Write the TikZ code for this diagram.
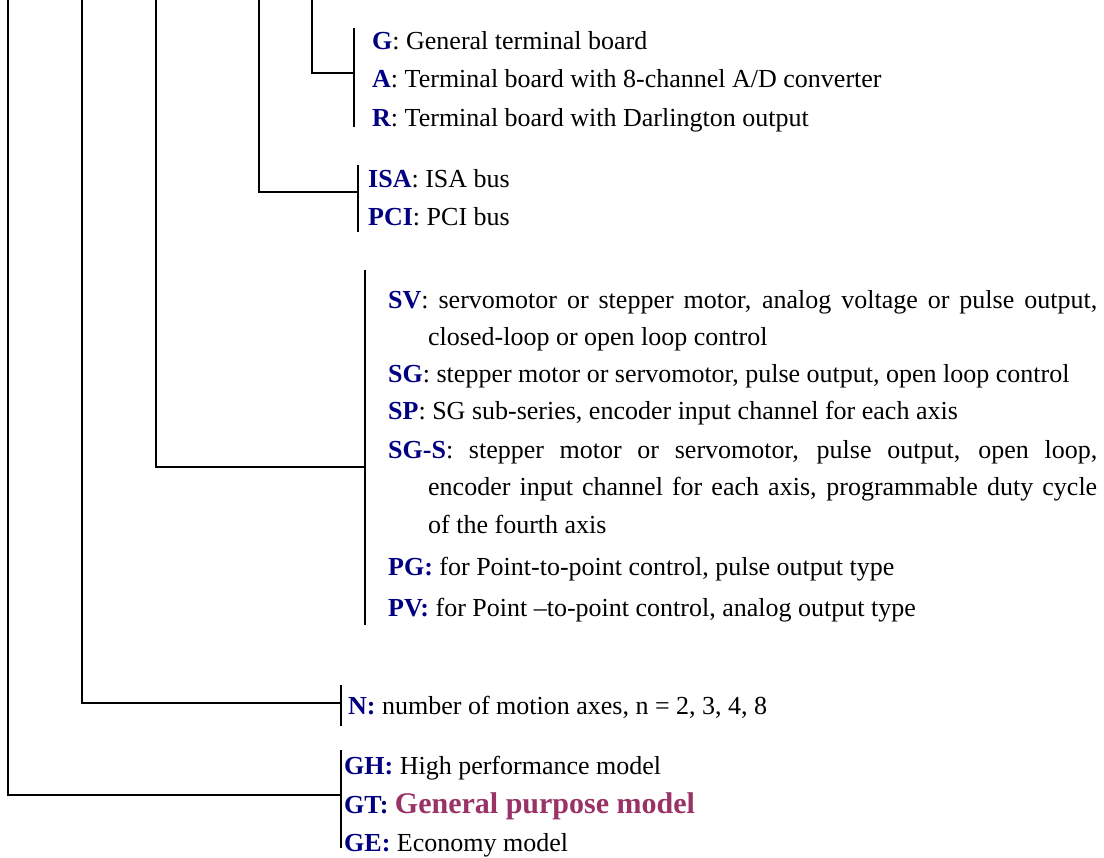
\documentclass[tikz,border=0pt]{standalone}
\usepackage{fontspec}
\setmainfont{Liberation Serif}
\definecolor{labblue}{RGB}{0,0,128}
\definecolor{gpmag}{RGB}{153,51,102}
\newcommand{\lab}[1]{\textbf{\color{labblue}#1}}
\begin{document}
\begin{tikzpicture}[x=1pt,y=-1pt,
  conn/.style={line width=1.8pt, black},
  bar/.style={line width=1.8pt, black},
  txt/.style={anchor=base west, inner sep=0pt, font=\fontsize{26}{30}\selectfont}]
\useasboundingbox (0,0) rectangle (1104,858);

% ---- group 1: terminal boards
\coordinate (t1) at (312,0);
\coordinate (j1) at (354,73);
\coordinate (b1a) at (354,28);
\coordinate (b1b) at (354,127);
\draw[bar] (b1a) -- (b1b);
\draw[conn] (t1) |- (j1);
\node[txt] (G) at (372,50) {\lab{G}: General terminal board};
\node[txt] (A) at (372,88) {\lab{A}: Terminal board with 8-channel A/D converter};
\node[txt] (R) at (372,127) {\lab{R}: Terminal board with Darlington output};

% ---- group 2: bus
\coordinate (t2) at (259,0);
\coordinate (j2) at (358,192);
\coordinate (b2a) at (358,165);
\coordinate (b2b) at (358,232);
\draw[bar] (b2a) -- (b2b);
\draw[conn] (t2) |- (j2);
\node[txt] (ISA) at (368,188) {\lab{ISA}: ISA bus};
\node[txt] (PCI) at (368,226) {\lab{PCI}: PCI bus};

% ---- group 3: series
\coordinate (t3) at (156,0);
\coordinate (j3) at (365,467);
\coordinate (b3a) at (365,270);
\coordinate (b3b) at (365,625);
\draw[bar] (b3a) -- (b3b);
\draw[conn] (t3) |- (j3);
\node[txt] (SV) at (388,309) {\makebox[709pt][s]{\lab{SV}: servomotor or stepper motor, analog voltage or pulse output,}};
\node[txt] (SV2) at (428,346) {closed-loop or open loop control};
\node[txt] (SG) at (388,383) {\lab{SG}: stepper motor or servomotor, pulse output, open loop control};
\node[txt] (SP) at (388,420) {\lab{SP}: SG sub-series, encoder input channel for each axis};
\node[txt] (SGS) at (388,459) {\makebox[709pt][s]{\lab{SG-S}: stepper motor or servomotor, pulse output, open loop,}};
\node[txt] (SGS2) at (428,496) {\makebox[669pt][s]{encoder input channel for each axis, programmable duty cycle}};
\node[txt] (SGS3) at (428,533) {of the fourth axis};
\node[txt] (PG) at (388,576) {\lab{PG:} for Point-to-point control, pulse output type};
\node[txt] (PV) at (388,616) {\lab{PV:} for Point –to-point control, analog output type};

% ---- group 4: axes
\coordinate (t4) at (82,0);
\coordinate (j4) at (341,703);
\coordinate (b4a) at (341,685);
\coordinate (b4b) at (341,726);
\draw[bar] (b4a) -- (b4b);
\draw[conn] (t4) |- (j4);
\node[txt] (N) at (348,714) {\lab{N:} number of motion axes, n = 2, 3, 4, 8};

% ---- group 5: model
\coordinate (t5) at (8,0);
\coordinate (j5) at (341,795);
\coordinate (b5a) at (341,750);
\coordinate (b5b) at (341,848);
\draw[bar] (b5a) -- (b5b);
\draw[conn] (t5) |- (j5);
\node[txt] (GH) at (344,774) {\lab{GH:} High performance model};
\node[txt] (GT) at (344,813) {\lab{GT:} {\fontsize{30}{34}\selectfont\bfseries\color{gpmag}General purpose model}};
\node[txt] (GE) at (344,851) {\lab{GE:} Economy model};
\end{tikzpicture}
\end{document}
